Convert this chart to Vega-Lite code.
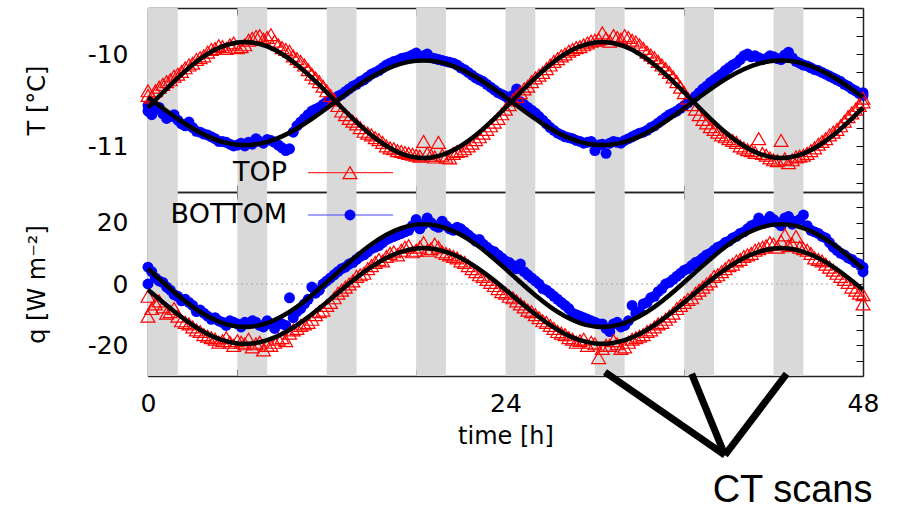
{
  "$schema": "https://vega.github.io/schema/vega-lite/v6.json",
  "width": 715,
  "height": 368,
  "autosize": {"type": "none"},
  "padding": {"left": 148, "top": 8, "right": 36, "bottom": 134},
  "background": "white",
  "datasets": {
    "bands": [
      {"s": 0, "e": 2}, {"s": 6, "e": 8}, {"s": 12, "e": 14}, {"s": 18, "e": 20},
      {"s": 24, "e": 26}, {"s": 30, "e": 32}, {"s": 36, "e": 38}, {"s": 42, "e": 44}
    ],
    "obs": [
      {"t": 0, "Ttop": -10.45, "Tbot": -10.62, "qtop": -4.0, "qbot": 5.5},
      {"t": 0.5, "Ttop": -10.40, "Tbot": -10.60, "qtop": -6.5, "qbot": 2.0},
      {"t": 1, "Ttop": -10.33, "Tbot": -10.65, "qtop": -7.5, "qbot": 0.5},
      {"t": 1.5, "Ttop": -10.28, "Tbot": -10.68, "qtop": -9.0, "qbot": -2.0},
      {"t": 2, "Ttop": -10.22, "Tbot": -10.72, "qtop": -10.5, "qbot": -4.0},
      {"t": 2.5, "Ttop": -10.15, "Tbot": -10.78, "qtop": -12.5, "qbot": -5.0},
      {"t": 3, "Ttop": -10.10, "Tbot": -10.80, "qtop": -14.0, "qbot": -7.0},
      {"t": 3.5, "Ttop": -10.04, "Tbot": -10.85, "qtop": -15.5, "qbot": -8.5},
      {"t": 4, "Ttop": -9.98, "Tbot": -10.88, "qtop": -17.0, "qbot": -10.5},
      {"t": 4.5, "Ttop": -9.94, "Tbot": -10.92, "qtop": -18.0, "qbot": -11.0},
      {"t": 5, "Ttop": -9.92, "Tbot": -10.95, "qtop": -18.5, "qbot": -12.5},
      {"t": 5.5, "Ttop": -9.90, "Tbot": -10.98, "qtop": -19.0, "qbot": -12.0},
      {"t": 6, "Ttop": -9.93, "Tbot": -10.99, "qtop": -18.5, "qbot": -13.0},
      {"t": 6.5, "Ttop": -9.90, "Tbot": -11.00, "qtop": -19.5, "qbot": -12.5},
      {"t": 7, "Ttop": -9.83, "Tbot": -10.98, "qtop": -20.5, "qbot": -12.0},
      {"t": 7.5, "Ttop": -9.80, "Tbot": -10.95, "qtop": -19.0, "qbot": -13.5},
      {"t": 8, "Ttop": -9.82, "Tbot": -10.93, "qtop": -20.0, "qbot": -12.0},
      {"t": 8.5, "Ttop": -9.86, "Tbot": -10.96, "qtop": -19.0, "qbot": -14.5},
      {"t": 9, "Ttop": -9.93, "Tbot": -11.02, "qtop": -17.5, "qbot": -13.0},
      {"t": 9.5, "Ttop": -9.97, "Tbot": -11.03, "qtop": -16.0, "qbot": -4.5},
      {"t": 10, "Ttop": -10.05, "Tbot": -10.78, "qtop": -14.5, "qbot": -9.0},
      {"t": 10.5, "Ttop": -10.12, "Tbot": -10.70, "qtop": -13.0, "qbot": -6.5},
      {"t": 11, "Ttop": -10.22, "Tbot": -10.62, "qtop": -11.5, "qbot": -1.0},
      {"t": 11.5, "Ttop": -10.30, "Tbot": -10.58, "qtop": -9.0, "qbot": -2.0},
      {"t": 12, "Ttop": -10.40, "Tbot": -10.52, "qtop": -7.0, "qbot": 1.0},
      {"t": 12.5, "Ttop": -10.50, "Tbot": -10.48, "qtop": -4.5, "qbot": 3.0},
      {"t": 13, "Ttop": -10.62, "Tbot": -10.44, "qtop": -2.0, "qbot": 5.0},
      {"t": 13.5, "Ttop": -10.70, "Tbot": -10.38, "qtop": 0.0, "qbot": 6.5},
      {"t": 14, "Ttop": -10.76, "Tbot": -10.33, "qtop": 2.5, "qbot": 8.0},
      {"t": 14.5, "Ttop": -10.84, "Tbot": -10.28, "qtop": 3.5, "qbot": 9.5},
      {"t": 15, "Ttop": -10.88, "Tbot": -10.22, "qtop": 6.0, "qbot": 11.5},
      {"t": 15.5, "Ttop": -10.93, "Tbot": -10.18, "qtop": 8.0, "qbot": 12.5},
      {"t": 16, "Ttop": -11.00, "Tbot": -10.12, "qtop": 9.0, "qbot": 14.5},
      {"t": 16.5, "Ttop": -11.03, "Tbot": -10.08, "qtop": 10.5, "qbot": 15.5},
      {"t": 17, "Ttop": -11.06, "Tbot": -10.05, "qtop": 11.0, "qbot": 16.5},
      {"t": 17.5, "Ttop": -11.08, "Tbot": -10.03, "qtop": 12.5, "qbot": 17.5},
      {"t": 18, "Ttop": -11.10, "Tbot": -9.99, "qtop": 11.0, "qbot": 21.0},
      {"t": 18.5, "Ttop": -10.95, "Tbot": -10.02, "qtop": 13.5, "qbot": 19.5},
      {"t": 19, "Ttop": -11.10, "Tbot": -10.04, "qtop": 11.5, "qbot": 20.0},
      {"t": 19.5, "Ttop": -10.96, "Tbot": -10.06, "qtop": 12.0, "qbot": 18.5},
      {"t": 20, "Ttop": -11.12, "Tbot": -10.08, "qtop": 10.0, "qbot": 19.0},
      {"t": 20.5, "Ttop": -11.08, "Tbot": -10.10, "qtop": 9.0, "qbot": 17.5},
      {"t": 21, "Ttop": -11.05, "Tbot": -10.15, "qtop": 7.5, "qbot": 18.0},
      {"t": 21.5, "Ttop": -11.00, "Tbot": -10.20, "qtop": 6.0, "qbot": 16.0},
      {"t": 22, "Ttop": -10.93, "Tbot": -10.26, "qtop": 4.0, "qbot": 14.0},
      {"t": 22.5, "Ttop": -10.86, "Tbot": -10.30, "qtop": 2.5, "qbot": 13.0},
      {"t": 23, "Ttop": -10.78, "Tbot": -10.36, "qtop": 0.5, "qbot": 11.0},
      {"t": 23.5, "Ttop": -10.70, "Tbot": -10.42, "qtop": -1.5, "qbot": 9.5},
      {"t": 24, "Ttop": -10.60, "Tbot": -10.46, "qtop": -3.0, "qbot": 7.5},
      {"t": 24.5, "Ttop": -10.50, "Tbot": -10.45, "qtop": -4.5, "qbot": 6.0},
      {"t": 25, "Ttop": -10.42, "Tbot": -10.52, "qtop": -6.5, "qbot": 6.5},
      {"t": 25.5, "Ttop": -10.35, "Tbot": -10.58, "qtop": -8.5, "qbot": 3.0},
      {"t": 26, "Ttop": -10.26, "Tbot": -10.64, "qtop": -10.0, "qbot": 1.0},
      {"t": 26.5, "Ttop": -10.20, "Tbot": -10.72, "qtop": -12.0, "qbot": -1.5},
      {"t": 27, "Ttop": -10.12, "Tbot": -10.80, "qtop": -13.5, "qbot": -3.0},
      {"t": 27.5, "Ttop": -10.05, "Tbot": -10.86, "qtop": -15.5, "qbot": -5.0},
      {"t": 28, "Ttop": -10.00, "Tbot": -10.90, "qtop": -16.5, "qbot": -7.0},
      {"t": 28.5, "Ttop": -9.95, "Tbot": -10.92, "qtop": -18.0, "qbot": -9.5},
      {"t": 29, "Ttop": -9.92, "Tbot": -10.95, "qtop": -18.5, "qbot": -10.5},
      {"t": 29.5, "Ttop": -9.88, "Tbot": -10.96, "qtop": -20.0, "qbot": -11.5},
      {"t": 30, "Ttop": -9.85, "Tbot": -11.05, "qtop": -19.5, "qbot": -12.5},
      {"t": 30.5, "Ttop": -9.77, "Tbot": -10.98, "qtop": -21.0, "qbot": -13.0},
      {"t": 31, "Ttop": -9.86, "Tbot": -10.97, "qtop": -20.0, "qbot": -15.5},
      {"t": 31.5, "Ttop": -9.82, "Tbot": -10.96, "qtop": -19.5, "qbot": -12.5},
      {"t": 32, "Ttop": -9.80, "Tbot": -10.94, "qtop": -20.5, "qbot": -13.5},
      {"t": 32.5, "Ttop": -9.85, "Tbot": -10.90, "qtop": -18.0, "qbot": -7.0},
      {"t": 33, "Ttop": -9.90, "Tbot": -10.86, "qtop": -17.0, "qbot": -9.0},
      {"t": 33.5, "Ttop": -9.98, "Tbot": -10.83, "qtop": -15.5, "qbot": -6.0},
      {"t": 34, "Ttop": -10.04, "Tbot": -10.78, "qtop": -14.0, "qbot": -4.0},
      {"t": 34.5, "Ttop": -10.12, "Tbot": -10.72, "qtop": -12.5, "qbot": -1.5},
      {"t": 35, "Ttop": -10.20, "Tbot": -10.66, "qtop": -10.5, "qbot": 0.5},
      {"t": 35.5, "Ttop": -10.30, "Tbot": -10.62, "qtop": -8.0, "qbot": 2.5},
      {"t": 36, "Ttop": -10.42, "Tbot": -10.56, "qtop": -6.0, "qbot": 4.5},
      {"t": 36.5, "Ttop": -10.55, "Tbot": -10.50, "qtop": -4.5, "qbot": 6.0},
      {"t": 37, "Ttop": -10.66, "Tbot": -10.42, "qtop": -2.0, "qbot": 7.5},
      {"t": 37.5, "Ttop": -10.75, "Tbot": -10.35, "qtop": 0.0, "qbot": 9.5},
      {"t": 38, "Ttop": -10.82, "Tbot": -10.28, "qtop": 2.5, "qbot": 11.0},
      {"t": 38.5, "Ttop": -10.88, "Tbot": -10.22, "qtop": 4.0, "qbot": 12.5},
      {"t": 39, "Ttop": -10.92, "Tbot": -10.15, "qtop": 6.0, "qbot": 14.0},
      {"t": 39.5, "Ttop": -10.96, "Tbot": -10.10, "qtop": 7.5, "qbot": 15.5},
      {"t": 40, "Ttop": -11.02, "Tbot": -10.02, "qtop": 9.0, "qbot": 17.0},
      {"t": 40.5, "Ttop": -11.05, "Tbot": -10.03, "qtop": 10.0, "qbot": 19.0},
      {"t": 41, "Ttop": -10.92, "Tbot": -10.04, "qtop": 11.5, "qbot": 21.5},
      {"t": 41.5, "Ttop": -11.10, "Tbot": -10.05, "qtop": 12.5, "qbot": 20.0},
      {"t": 42, "Ttop": -11.15, "Tbot": -10.03, "qtop": 13.0, "qbot": 21.0},
      {"t": 42.5, "Ttop": -10.94, "Tbot": -10.06, "qtop": 14.0, "qbot": 19.0},
      {"t": 43, "Ttop": -11.18, "Tbot": -9.98, "qtop": 12.5, "qbot": 22.0},
      {"t": 43.5, "Ttop": -11.12, "Tbot": -10.08, "qtop": 15.5, "qbot": 20.5},
      {"t": 44, "Ttop": -11.10, "Tbot": -10.12, "qtop": 11.5, "qbot": 22.5},
      {"t": 44.5, "Ttop": -11.05, "Tbot": -10.15, "qtop": 10.0, "qbot": 17.5},
      {"t": 45, "Ttop": -10.98, "Tbot": -10.18, "qtop": 8.0, "qbot": 16.5},
      {"t": 45.5, "Ttop": -10.92, "Tbot": -10.22, "qtop": 6.5, "qbot": 15.0},
      {"t": 46, "Ttop": -10.85, "Tbot": -10.26, "qtop": 4.5, "qbot": 12.0},
      {"t": 46.5, "Ttop": -10.78, "Tbot": -10.30, "qtop": 2.5, "qbot": 10.0},
      {"t": 47, "Ttop": -10.68, "Tbot": -10.35, "qtop": 0.5, "qbot": 8.5},
      {"t": 47.5, "Ttop": -10.60, "Tbot": -10.40, "qtop": -2.0, "qbot": 7.0},
      {"t": 48, "Ttop": -10.52, "Tbot": -10.45, "qtop": -3.5, "qbot": 5.5},
      {"t": 0, "Ttop": -10.40, "Tbot": -10.56, "qtop": -10.5, "qbot": 0.0},
      {"t": 0.25, "Ttop": -10.47, "Tbot": -10.66, "qtop": -8.0, "qbot": 4.0},
      {"t": 0.75, "Ttop": -10.36, "Tbot": -10.58, "qtop": -5.5, "qbot": 1.0},
      {"t": 1.25, "Ttop": -10.30, "Tbot": -10.70, "qtop": -9.5, "qbot": -1.0},
      {"t": 1.75, "Ttop": -10.24, "Tbot": -10.66, "qtop": -8.0, "qbot": -3.5},
      {"t": 2.25, "Ttop": -10.19, "Tbot": -10.76, "qtop": -12.0, "qbot": -5.5},
      {"t": 2.75, "Ttop": -10.12, "Tbot": -10.74, "qtop": -13.0, "qbot": -6.0},
      {"t": 3.25, "Ttop": -10.06, "Tbot": -10.84, "qtop": -15.0, "qbot": -9.0},
      {"t": 3.75, "Ttop": -10.02, "Tbot": -10.87, "qtop": -16.5, "qbot": -9.5},
      {"t": 4.25, "Ttop": -9.95, "Tbot": -10.90, "qtop": -17.5, "qbot": -11.5},
      {"t": 4.75, "Ttop": -9.91, "Tbot": -10.95, "qtop": -19.0, "qbot": -12.0},
      {"t": 5.25, "Ttop": -9.94, "Tbot": -10.96, "qtop": -17.5, "qbot": -13.5},
      {"t": 5.75, "Ttop": -9.88, "Tbot": -11.00, "qtop": -20.0, "qbot": -12.5},
      {"t": 6.25, "Ttop": -9.92, "Tbot": -10.97, "qtop": -19.0, "qbot": -14.0},
      {"t": 6.75, "Ttop": -9.85, "Tbot": -10.96, "qtop": -18.0, "qbot": -13.0},
      {"t": 7.25, "Ttop": -9.81, "Tbot": -10.92, "qtop": -19.5, "qbot": -12.5},
      {"t": 7.75, "Ttop": -9.84, "Tbot": -10.97, "qtop": -21.5, "qbot": -14.0},
      {"t": 8.25, "Ttop": -9.79, "Tbot": -10.94, "qtop": -20.0, "qbot": -13.0},
      {"t": 8.75, "Ttop": -9.90, "Tbot": -10.99, "qtop": -18.0, "qbot": -12.5},
      {"t": 9.25, "Ttop": -9.95, "Tbot": -11.05, "qtop": -18.5, "qbot": -13.5},
      {"t": 9.75, "Ttop": -10.02, "Tbot": -10.85, "qtop": -15.0, "qbot": -11.0},
      {"t": 10.25, "Ttop": -10.08, "Tbot": -10.74, "qtop": -13.5, "qbot": -8.0},
      {"t": 10.75, "Ttop": -10.17, "Tbot": -10.66, "qtop": -12.5, "qbot": -5.0},
      {"t": 11.25, "Ttop": -10.26, "Tbot": -10.60, "qtop": -10.0, "qbot": -3.0},
      {"t": 11.75, "Ttop": -10.35, "Tbot": -10.55, "qtop": -8.5, "qbot": 0.0},
      {"t": 12.25, "Ttop": -10.45, "Tbot": -10.50, "qtop": -6.0, "qbot": 2.0},
      {"t": 12.75, "Ttop": -10.56, "Tbot": -10.46, "qtop": -3.0, "qbot": 4.0},
      {"t": 13.25, "Ttop": -10.66, "Tbot": -10.41, "qtop": -1.0, "qbot": 5.5},
      {"t": 13.75, "Ttop": -10.73, "Tbot": -10.35, "qtop": 1.0, "qbot": 7.0},
      {"t": 14.25, "Ttop": -10.80, "Tbot": -10.30, "qtop": 3.0, "qbot": 9.0},
      {"t": 14.75, "Ttop": -10.86, "Tbot": -10.25, "qtop": 5.0, "qbot": 10.5},
      {"t": 15.25, "Ttop": -10.91, "Tbot": -10.20, "qtop": 7.0, "qbot": 12.0},
      {"t": 15.75, "Ttop": -10.96, "Tbot": -10.15, "qtop": 7.5, "qbot": 13.5},
      {"t": 16.25, "Ttop": -11.02, "Tbot": -10.10, "qtop": 10.0, "qbot": 15.0},
      {"t": 16.75, "Ttop": -11.05, "Tbot": -10.07, "qtop": 9.5, "qbot": 16.0},
      {"t": 17.25, "Ttop": -11.07, "Tbot": -10.04, "qtop": 12.0, "qbot": 17.0},
      {"t": 17.75, "Ttop": -11.09, "Tbot": -10.01, "qtop": 10.5, "qbot": 19.0},
      {"t": 18.25, "Ttop": -11.11, "Tbot": -10.03, "qtop": 12.0, "qbot": 18.0},
      {"t": 18.75, "Ttop": -11.08, "Tbot": -10.00, "qtop": 11.0, "qbot": 21.5},
      {"t": 19.25, "Ttop": -11.12, "Tbot": -10.05, "qtop": 13.0, "qbot": 19.0},
      {"t": 19.75, "Ttop": -11.10, "Tbot": -10.07, "qtop": 10.5, "qbot": 20.5},
      {"t": 20.25, "Ttop": -11.13, "Tbot": -10.09, "qtop": 9.5, "qbot": 18.0},
      {"t": 20.75, "Ttop": -11.06, "Tbot": -10.12, "qtop": 8.5, "qbot": 18.5},
      {"t": 21.25, "Ttop": -11.03, "Tbot": -10.17, "qtop": 7.0, "qbot": 17.0},
      {"t": 21.75, "Ttop": -10.97, "Tbot": -10.23, "qtop": 5.0, "qbot": 15.0},
      {"t": 22.25, "Ttop": -10.90, "Tbot": -10.28, "qtop": 3.0, "qbot": 14.5},
      {"t": 22.75, "Ttop": -10.82, "Tbot": -10.33, "qtop": 1.5, "qbot": 12.0},
      {"t": 23.25, "Ttop": -10.74, "Tbot": -10.39, "qtop": -0.5, "qbot": 10.5},
      {"t": 23.75, "Ttop": -10.65, "Tbot": -10.44, "qtop": -2.5, "qbot": 8.5},
      {"t": 24.25, "Ttop": -10.55, "Tbot": -10.50, "qtop": -4.0, "qbot": 7.0},
      {"t": 24.75, "Ttop": -10.46, "Tbot": -10.38, "qtop": -5.5, "qbot": 5.0},
      {"t": 25.25, "Ttop": -10.38, "Tbot": -10.55, "qtop": -7.5, "qbot": 4.0},
      {"t": 25.75, "Ttop": -10.30, "Tbot": -10.61, "qtop": -9.0, "qbot": 2.0},
      {"t": 26.25, "Ttop": -10.23, "Tbot": -10.68, "qtop": -11.0, "qbot": 0.0},
      {"t": 26.75, "Ttop": -10.16, "Tbot": -10.76, "qtop": -12.5, "qbot": -2.0},
      {"t": 27.25, "Ttop": -10.08, "Tbot": -10.83, "qtop": -14.5, "qbot": -4.0},
      {"t": 27.75, "Ttop": -10.02, "Tbot": -10.88, "qtop": -16.0, "qbot": -6.0},
      {"t": 28.25, "Ttop": -9.97, "Tbot": -10.91, "qtop": -17.5, "qbot": -8.0},
      {"t": 28.75, "Ttop": -9.93, "Tbot": -10.94, "qtop": -19.0, "qbot": -10.0},
      {"t": 29.25, "Ttop": -9.90, "Tbot": -10.97, "qtop": -18.0, "qbot": -11.0},
      {"t": 29.75, "Ttop": -9.86, "Tbot": -10.95, "qtop": -19.0, "qbot": -12.0},
      {"t": 30.25, "Ttop": -9.84, "Tbot": -10.99, "qtop": -24.0, "qbot": -13.0},
      {"t": 30.75, "Ttop": -9.83, "Tbot": -11.08, "qtop": -20.0, "qbot": -14.5},
      {"t": 31.25, "Ttop": -9.80, "Tbot": -10.95, "qtop": -18.5, "qbot": -13.0},
      {"t": 31.75, "Ttop": -9.84, "Tbot": -10.97, "qtop": -21.0, "qbot": -14.0},
      {"t": 32.25, "Ttop": -9.82, "Tbot": -10.92, "qtop": -19.0, "qbot": -12.0},
      {"t": 32.75, "Ttop": -9.87, "Tbot": -10.88, "qtop": -17.5, "qbot": -9.5},
      {"t": 33.25, "Ttop": -9.94, "Tbot": -10.85, "qtop": -16.5, "qbot": -6.5},
      {"t": 33.75, "Ttop": -10.01, "Tbot": -10.80, "qtop": -15.0, "qbot": -4.5},
      {"t": 34.25, "Ttop": -10.08, "Tbot": -10.75, "qtop": -13.0, "qbot": -2.5},
      {"t": 34.75, "Ttop": -10.16, "Tbot": -10.69, "qtop": -11.5, "qbot": 0.0},
      {"t": 35.25, "Ttop": -10.25, "Tbot": -10.64, "qtop": -9.5, "qbot": 1.5},
      {"t": 35.75, "Ttop": -10.36, "Tbot": -10.59, "qtop": -7.0, "qbot": 3.5},
      {"t": 36.25, "Ttop": -10.48, "Tbot": -10.53, "qtop": -5.0, "qbot": 5.0},
      {"t": 36.75, "Ttop": -10.60, "Tbot": -10.46, "qtop": -3.0, "qbot": 7.0},
      {"t": 37.25, "Ttop": -10.71, "Tbot": -10.38, "qtop": -1.0, "qbot": 8.5},
      {"t": 37.75, "Ttop": -10.79, "Tbot": -10.31, "qtop": 1.0, "qbot": 10.0},
      {"t": 38.25, "Ttop": -10.85, "Tbot": -10.25, "qtop": 3.0, "qbot": 12.0},
      {"t": 38.75, "Ttop": -10.90, "Tbot": -10.18, "qtop": 5.0, "qbot": 13.5},
      {"t": 39.25, "Ttop": -10.94, "Tbot": -10.12, "qtop": 6.5, "qbot": 15.0},
      {"t": 39.75, "Ttop": -11.00, "Tbot": -10.06, "qtop": 8.0, "qbot": 16.5},
      {"t": 40.25, "Ttop": -11.04, "Tbot": -10.00, "qtop": 9.5, "qbot": 18.0},
      {"t": 40.75, "Ttop": -11.07, "Tbot": -10.02, "qtop": 11.0, "qbot": 19.5},
      {"t": 41.25, "Ttop": -11.08, "Tbot": -10.06, "qtop": 12.0, "qbot": 20.5},
      {"t": 41.75, "Ttop": -11.13, "Tbot": -10.02, "qtop": 13.5, "qbot": 22.0},
      {"t": 42.25, "Ttop": -11.16, "Tbot": -10.05, "qtop": 12.0, "qbot": 20.0},
      {"t": 42.75, "Ttop": -11.14, "Tbot": -10.01, "qtop": 16.0, "qbot": 21.5},
      {"t": 43.25, "Ttop": -11.15, "Tbot": -10.04, "qtop": 13.0, "qbot": 19.5},
      {"t": 43.75, "Ttop": -11.11, "Tbot": -10.10, "qtop": 12.0, "qbot": 21.0},
      {"t": 44.25, "Ttop": -11.08, "Tbot": -10.13, "qtop": 11.0, "qbot": 19.0},
      {"t": 44.75, "Ttop": -11.02, "Tbot": -10.17, "qtop": 8.5, "qbot": 17.0},
      {"t": 45.25, "Ttop": -10.95, "Tbot": -10.20, "qtop": 7.5, "qbot": 15.5},
      {"t": 45.75, "Ttop": -10.88, "Tbot": -10.24, "qtop": 5.5, "qbot": 13.5},
      {"t": 46.25, "Ttop": -10.82, "Tbot": -10.28, "qtop": 3.5, "qbot": 11.0},
      {"t": 46.75, "Ttop": -10.73, "Tbot": -10.33, "qtop": 1.5, "qbot": 9.5},
      {"t": 47.25, "Ttop": -10.64, "Tbot": -10.38, "qtop": -1.0, "qbot": 8.0},
      {"t": 47.75, "Ttop": -10.56, "Tbot": -10.43, "qtop": -3.0, "qbot": 6.5},
      {"t": 48, "Ttop": -10.48, "Tbot": -10.42, "qtop": -6.5, "qbot": 4.0}
    ],
    "fit": [
      {"t": 0, "Ttop": -10.582, "Tbot": -10.470, "qtop": -1.86, "qbot": 4.94},
      {"t": 1, "Ttop": -10.418, "Tbot": -10.590, "qtop": -5.94, "qbot": 0.56},
      {"t": 2, "Ttop": -10.259, "Tbot": -10.706, "qtop": -9.87, "qbot": -3.66},
      {"t": 3, "Ttop": -10.116, "Tbot": -10.810, "qtop": -13.40, "qbot": -7.45},
      {"t": 4, "Ttop": -10.000, "Tbot": -10.895, "qtop": -16.28, "qbot": -10.54},
      {"t": 5, "Ttop": -9.918, "Tbot": -10.955, "qtop": -18.31, "qbot": -12.73},
      {"t": 6, "Ttop": -9.875, "Tbot": -10.986, "qtop": -19.37, "qbot": -13.86},
      {"t": 7, "Ttop": -9.875, "Tbot": -10.986, "qtop": -19.37, "qbot": -13.86},
      {"t": 8, "Ttop": -9.918, "Tbot": -10.955, "qtop": -18.31, "qbot": -12.73},
      {"t": 9, "Ttop": -10.000, "Tbot": -10.895, "qtop": -16.28, "qbot": -10.54},
      {"t": 10, "Ttop": -10.116, "Tbot": -10.810, "qtop": -13.40, "qbot": -7.45},
      {"t": 11, "Ttop": -10.259, "Tbot": -10.706, "qtop": -9.87, "qbot": -3.66},
      {"t": 12, "Ttop": -10.418, "Tbot": -10.590, "qtop": -5.94, "qbot": 0.56},
      {"t": 13, "Ttop": -10.582, "Tbot": -10.470, "qtop": -1.86, "qbot": 4.94},
      {"t": 14, "Ttop": -10.741, "Tbot": -10.354, "qtop": 2.07, "qbot": 9.16},
      {"t": 15, "Ttop": -10.884, "Tbot": -10.250, "qtop": 5.60, "qbot": 12.95},
      {"t": 16, "Ttop": -11.000, "Tbot": -10.165, "qtop": 8.48, "qbot": 16.04},
      {"t": 17, "Ttop": -11.082, "Tbot": -10.105, "qtop": 10.51, "qbot": 18.23},
      {"t": 18, "Ttop": -11.125, "Tbot": -10.074, "qtop": 11.57, "qbot": 19.36},
      {"t": 19, "Ttop": -11.125, "Tbot": -10.074, "qtop": 11.57, "qbot": 19.36},
      {"t": 20, "Ttop": -11.082, "Tbot": -10.105, "qtop": 10.51, "qbot": 18.23},
      {"t": 21, "Ttop": -11.000, "Tbot": -10.165, "qtop": 8.48, "qbot": 16.04},
      {"t": 22, "Ttop": -10.884, "Tbot": -10.250, "qtop": 5.60, "qbot": 12.95},
      {"t": 23, "Ttop": -10.741, "Tbot": -10.354, "qtop": 2.07, "qbot": 9.16},
      {"t": 24, "Ttop": -10.582, "Tbot": -10.470, "qtop": -1.86, "qbot": 4.94},
      {"t": 25, "Ttop": -10.418, "Tbot": -10.590, "qtop": -5.94, "qbot": 0.56},
      {"t": 26, "Ttop": -10.259, "Tbot": -10.706, "qtop": -9.87, "qbot": -3.66},
      {"t": 27, "Ttop": -10.116, "Tbot": -10.810, "qtop": -13.40, "qbot": -7.45},
      {"t": 28, "Ttop": -10.000, "Tbot": -10.895, "qtop": -16.28, "qbot": -10.54},
      {"t": 29, "Ttop": -9.918, "Tbot": -10.955, "qtop": -18.31, "qbot": -12.73},
      {"t": 30, "Ttop": -9.875, "Tbot": -10.986, "qtop": -19.37, "qbot": -13.86},
      {"t": 31, "Ttop": -9.875, "Tbot": -10.986, "qtop": -19.37, "qbot": -13.86},
      {"t": 32, "Ttop": -9.918, "Tbot": -10.955, "qtop": -18.31, "qbot": -12.73},
      {"t": 33, "Ttop": -10.000, "Tbot": -10.895, "qtop": -16.28, "qbot": -10.54},
      {"t": 34, "Ttop": -10.116, "Tbot": -10.810, "qtop": -13.40, "qbot": -7.45},
      {"t": 35, "Ttop": -10.259, "Tbot": -10.706, "qtop": -9.87, "qbot": -3.66},
      {"t": 36, "Ttop": -10.418, "Tbot": -10.590, "qtop": -5.94, "qbot": 0.56},
      {"t": 37, "Ttop": -10.582, "Tbot": -10.470, "qtop": -1.86, "qbot": 4.94},
      {"t": 38, "Ttop": -10.741, "Tbot": -10.354, "qtop": 2.07, "qbot": 9.16},
      {"t": 39, "Ttop": -10.884, "Tbot": -10.250, "qtop": 5.60, "qbot": 12.95},
      {"t": 40, "Ttop": -11.000, "Tbot": -10.165, "qtop": 8.48, "qbot": 16.04},
      {"t": 41, "Ttop": -11.082, "Tbot": -10.105, "qtop": 10.51, "qbot": 18.23},
      {"t": 42, "Ttop": -11.125, "Tbot": -10.074, "qtop": 11.57, "qbot": 19.36},
      {"t": 43, "Ttop": -11.125, "Tbot": -10.074, "qtop": 11.57, "qbot": 19.36},
      {"t": 44, "Ttop": -11.082, "Tbot": -10.105, "qtop": 10.51, "qbot": 18.23},
      {"t": 45, "Ttop": -11.000, "Tbot": -10.165, "qtop": 8.48, "qbot": 16.04},
      {"t": 46, "Ttop": -10.884, "Tbot": -10.250, "qtop": 5.60, "qbot": 12.95},
      {"t": 47, "Ttop": -10.741, "Tbot": -10.354, "qtop": 2.07, "qbot": 9.16},
      {"t": 48, "Ttop": -10.582, "Tbot": -10.470, "qtop": -1.86, "qbot": 4.94}
    ],
    "legTop": [{"label": "TOP", "t": 9.33, "t1": 10.74, "t2": 16.45, "tm": 13.56, "y": -11.29}],
    "legBot": [{"label": "BOTTOM", "t": 9.33, "t1": 10.74, "t2": 16.45, "tm": 13.56, "y": 22.5}],
    "ct": [
      {"t": 30.68, "q": -28.7, "t2": 38.73, "q2": -55.8},
      {"t": 36.5, "q": -29.3, "t2": 38.73, "q2": -55.8},
      {"t": 42.87, "q": -29.3, "t2": 38.73, "q2": -55.8}
    ],
    "ctLabel": [{"label": "CT scans", "t": 43.27, "q": -71.0}],
    "zero": [{"q": 0}]
  },
  "layer": [
    {
      "data": {"name": "bands"},
      "mark": {"type": "rect", "color": "#d9d9d9"},
      "encoding": {
        "x": {"field": "s", "type": "quantitative", "scale": {"domain": [0, 48], "nice": false, "zero": false},
          "axis": {"orient": "bottom", "values": [0, 6, 12, 18, 24, 30, 36, 42, 48],
            "labelExpr": "datum.value % 24 == 0 ? '' + datum.value : ''",
            "title": "time [h]", "titleX": 357.5, "titleY": 67, "titleBaseline": "alphabetic", "titleAlign": "center",
            "labelPadding": 22, "labelFlush": false}},
        "x2": {"field": "e"}
      }
    },
    {
      "data": {"name": "zero"},
      "mark": {"type": "rule", "color": "#aaaaaa", "strokeDash": [2, 3], "strokeWidth": 1},
      "encoding": {
        "y": {"field": "q", "type": "quantitative", "scale": {"domain": [-30, 30], "range": [368, 184], "nice": false, "zero": false}, "axis": null}
      }
    },
    {
      "data": {"name": "obs"},
      "mark": {"type": "point", "shape": "circle", "filled": true, "color": "#0000ff", "size": 120, "opacity": 1},
      "encoding": {
        "x": {"field": "t", "type": "quantitative", "scale": {"domain": [0, 48], "nice": false, "zero": false},
          "axis": {"orient": "top", "values": [0, 6, 12, 18, 24, 30, 36, 42, 48], "labels": false, "title": null}},
        "y": {"field": "Tbot", "type": "quantitative", "scale": {"domain": [-11.5, -9.5], "range": [184, 0], "nice": false, "zero": false},
          "axis": {"orient": "left", "values": [-11.4, -11.2, -11, -10.8, -10.6, -10.4, -10.2, -10, -9.8, -9.6],
            "labelExpr": "datum.value == -10 ? '-10' : (datum.value == -11 ? '-11' : '')",
            "title": "T [°C]", "titleX": -111, "titleY": 92, "titleAngle": -90, "titleAlign": "center", "titleBaseline": "middle",
            "labelPadding": 27}}
      }
    },
    {
      "data": {"name": "obs"},
      "mark": {"type": "point", "shape": "triangle-up", "filled": false, "color": "#ff0000", "size": 190, "strokeWidth": 1.2, "opacity": 1},
      "encoding": {
        "x": {"field": "t", "type": "quantitative", "scale": {"domain": [0, 48], "nice": false, "zero": false},
          "axis": {"orient": "bottom", "offset": -184, "values": [0, 6, 12, 18, 24, 30, 36, 42, 48], "labels": false, "title": null}},
        "y": {"field": "Ttop", "type": "quantitative", "scale": {"domain": [-11.5, -9.5], "range": [184, 0], "nice": false, "zero": false},
          "axis": {"orient": "right", "values": [-11.4, -11.2, -11, -10.8, -10.6, -10.4, -10.2, -10, -9.8, -9.6], "labels": false, "title": null}}
      }
    },
    {
      "data": {"name": "obs"},
      "mark": {"type": "point", "shape": "circle", "filled": true, "color": "#0000ff", "size": 120, "opacity": 1},
      "encoding": {
        "x": {"field": "t", "type": "quantitative", "scale": {"domain": [0, 48], "nice": false, "zero": false},
          "axis": {"orient": "top", "offset": -184, "values": [0, 6, 12, 18, 24, 30, 36, 42, 48], "labels": false, "title": null}},
        "y": {"field": "qbot", "type": "quantitative", "scale": {"domain": [-30, 30], "range": [368, 184], "nice": false, "zero": false},
          "axis": {"orient": "left", "values": [-25, -20, -15, -10, -5, 0, 5, 10, 15, 20, 25],
            "labelExpr": "datum.value == -20 ? '-20' : (datum.value == 0 ? '0' : (datum.value == 20 ? '20' : ''))",
            "title": "q [W m⁻²]", "titleX": -111, "titleY": 276, "titleAngle": -90, "titleAlign": "center", "titleBaseline": "middle",
            "labelPadding": 27}}
      }
    },
    {
      "data": {"name": "obs"},
      "mark": {"type": "point", "shape": "triangle-up", "filled": false, "color": "#ff0000", "size": 190, "strokeWidth": 1.2, "opacity": 1},
      "encoding": {
        "x": {"field": "t", "type": "quantitative", "scale": {"domain": [0, 48], "nice": false, "zero": false}, "axis": null},
        "y": {"field": "qtop", "type": "quantitative", "scale": {"domain": [-30, 30], "range": [368, 184], "nice": false, "zero": false},
          "axis": {"orient": "right", "values": [-25, -20, -15, -10, -5, 0, 5, 10, 15, 20, 25], "labels": false, "title": null}}
      }
    },
    {
      "data": {"name": "fit"},
      "mark": {"type": "line", "color": "#000000", "strokeWidth": 4.5, "interpolate": "natural"},
      "encoding": {
        "x": {"field": "t", "type": "quantitative", "scale": {"domain": [0, 48], "nice": false, "zero": false}, "axis": null},
        "y": {"field": "Ttop", "type": "quantitative", "scale": {"domain": [-11.5, -9.5], "range": [184, 0], "nice": false, "zero": false}, "axis": null}
      }
    },
    {
      "data": {"name": "fit"},
      "mark": {"type": "line", "color": "#000000", "strokeWidth": 4.5, "interpolate": "natural"},
      "encoding": {
        "x": {"field": "t", "type": "quantitative", "scale": {"domain": [0, 48], "nice": false, "zero": false}, "axis": null},
        "y": {"field": "Tbot", "type": "quantitative", "scale": {"domain": [-11.5, -9.5], "range": [184, 0], "nice": false, "zero": false}, "axis": null}
      }
    },
    {
      "data": {"name": "fit"},
      "mark": {"type": "line", "color": "#000000", "strokeWidth": 4.5, "interpolate": "natural"},
      "encoding": {
        "x": {"field": "t", "type": "quantitative", "scale": {"domain": [0, 48], "nice": false, "zero": false}, "axis": null},
        "y": {"field": "qtop", "type": "quantitative", "scale": {"domain": [-30, 30], "range": [368, 184], "nice": false, "zero": false}, "axis": null}
      }
    },
    {
      "data": {"name": "fit"},
      "mark": {"type": "line", "color": "#000000", "strokeWidth": 4.5, "interpolate": "natural"},
      "encoding": {
        "x": {"field": "t", "type": "quantitative", "scale": {"domain": [0, 48], "nice": false, "zero": false}, "axis": null},
        "y": {"field": "qbot", "type": "quantitative", "scale": {"domain": [-30, 30], "range": [368, 184], "nice": false, "zero": false}, "axis": null}
      }
    },
    {
      "data": {"name": "legTop"},
      "mark": {"type": "text", "align": "right", "baseline": "middle", "font": "DejaVu Sans", "fontSize": 27, "color": "#000000"},
      "encoding": {
        "x": {"field": "t", "type": "quantitative", "scale": {"domain": [0, 48], "nice": false, "zero": false}, "axis": null},
        "y": {"field": "y", "type": "quantitative", "scale": {"domain": [-11.5, -9.5], "range": [184, 0], "nice": false, "zero": false}, "axis": null},
        "text": {"field": "label"}
      }
    },
    {
      "data": {"name": "legTop"},
      "mark": {"type": "rule", "color": "#ff3333", "strokeWidth": 1.2},
      "encoding": {
        "x": {"field": "t1", "type": "quantitative", "scale": {"domain": [0, 48], "nice": false, "zero": false}, "axis": null},
        "x2": {"field": "t2"},
        "y": {"field": "y", "type": "quantitative", "scale": {"domain": [-11.5, -9.5], "range": [184, 0], "nice": false, "zero": false}, "axis": null}
      }
    },
    {
      "data": {"name": "legTop"},
      "mark": {"type": "point", "shape": "triangle-up", "filled": false, "color": "#ff0000", "size": 190, "strokeWidth": 1.2, "opacity": 1},
      "encoding": {
        "x": {"field": "tm", "type": "quantitative", "scale": {"domain": [0, 48], "nice": false, "zero": false}, "axis": null},
        "y": {"field": "y", "type": "quantitative", "scale": {"domain": [-11.5, -9.5], "range": [184, 0], "nice": false, "zero": false}, "axis": null}
      }
    },
    {
      "data": {"name": "legBot"},
      "mark": {"type": "text", "align": "right", "baseline": "middle", "font": "DejaVu Sans", "fontSize": 27, "color": "#000000"},
      "encoding": {
        "x": {"field": "t", "type": "quantitative", "scale": {"domain": [0, 48], "nice": false, "zero": false}, "axis": null},
        "y": {"field": "y", "type": "quantitative", "scale": {"domain": [-30, 30], "range": [368, 184], "nice": false, "zero": false}, "axis": null},
        "text": {"field": "label"}
      }
    },
    {
      "data": {"name": "legBot"},
      "mark": {"type": "rule", "color": "#4444ff", "strokeWidth": 1.2},
      "encoding": {
        "x": {"field": "t1", "type": "quantitative", "scale": {"domain": [0, 48], "nice": false, "zero": false}, "axis": null},
        "x2": {"field": "t2"},
        "y": {"field": "y", "type": "quantitative", "scale": {"domain": [-30, 30], "range": [368, 184], "nice": false, "zero": false}, "axis": null}
      }
    },
    {
      "data": {"name": "legBot"},
      "mark": {"type": "point", "shape": "circle", "filled": true, "color": "#0000ff", "size": 120, "opacity": 1},
      "encoding": {
        "x": {"field": "tm", "type": "quantitative", "scale": {"domain": [0, 48], "nice": false, "zero": false}, "axis": null},
        "y": {"field": "y", "type": "quantitative", "scale": {"domain": [-30, 30], "range": [368, 184], "nice": false, "zero": false}, "axis": null}
      }
    },
    {
      "data": {"name": "ct"},
      "mark": {"type": "rule", "color": "#000000", "strokeWidth": 7, "strokeCap": "butt"},
      "encoding": {
        "x": {"field": "t", "type": "quantitative", "scale": {"domain": [0, 48], "nice": false, "zero": false}, "axis": null},
        "x2": {"field": "t2"},
        "y": {"field": "q", "type": "quantitative", "scale": {"domain": [-30, 30], "range": [368, 184], "nice": false, "zero": false}, "axis": null},
        "y2": {"field": "q2"}
      }
    },
    {
      "data": {"name": "ctLabel"},
      "mark": {"type": "text", "align": "center", "baseline": "alphabetic", "font": "Liberation Sans", "fontSize": 38, "color": "#000000"},
      "encoding": {
        "x": {"field": "t", "type": "quantitative", "scale": {"domain": [0, 48], "nice": false, "zero": false}, "axis": null},
        "y": {"field": "q", "type": "quantitative", "scale": {"domain": [-30, 30], "range": [368, 184], "nice": false, "zero": false}, "axis": null},
        "text": {"field": "label"}
      }
    }
  ],
  "resolve": {
    "scale": {"y": "independent"},
    "axis": {"x": "independent", "y": "independent"}
  },
  "config": {
    "view": {"stroke": null},
    "axis": {
      "domain": true,
      "domainColor": "#222222",
      "domainWidth": 1.5,
      "ticks": true,
      "tickColor": "#000000",
      "tickWidth": 1,
      "tickSize": -7,
      "grid": false,
      "labelFont": "DejaVu Sans",
      "labelFontSize": 25,
      "labelColor": "#000000",
      "labelFlush": false,
      "titleFont": "DejaVu Sans",
      "titleFontSize": 24,
      "titleFontWeight": "normal",
      "titleColor": "#000000",
      "zindex": 1
    }
  }
}
